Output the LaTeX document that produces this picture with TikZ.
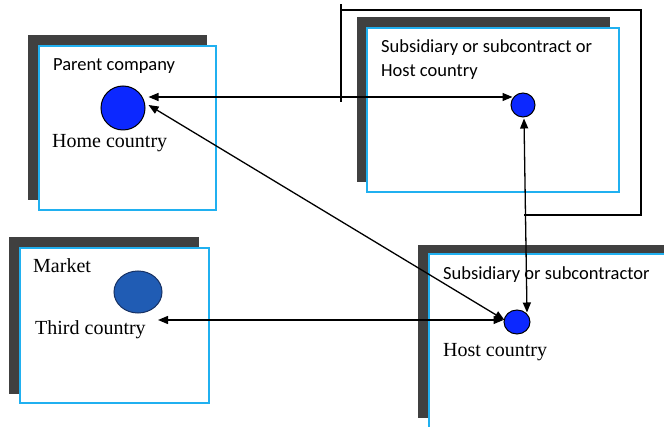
\documentclass[tikz,border=0pt]{standalone}
\usepackage{fontspec}
\setmainfont{Liberation Serif}
\newfontfamily\calib{Carlito}
\usetikzlibrary{arrows.meta,shapes.geometric}
\definecolor{shade}{RGB}{64,64,64}
\definecolor{rim}{RGB}{32,176,240}
\definecolor{dotblue}{RGB}{12,40,255}
\definecolor{mktblue}{RGB}{32,92,180}
\definecolor{mktrim}{RGB}{24,50,100}
\begin{document}
\begin{tikzpicture}[x=1pt,y=-1pt,
  shadowrect/.style={fill=shade, draw=none, anchor=north west, inner sep=0pt, outer sep=0pt},
  panel/.style={fill=white, draw=rim, line width=1.4pt, anchor=north west, inner sep=0pt, outer sep=0pt},
  dot/.style={circle, fill=dotblue, draw=black, line width=1pt, inner sep=0pt},
  sanslabel/.style={anchor=base west, inner sep=0pt, font=\calib\fontsize{18.5}{22}\selectfont},
  seriflabel/.style={anchor=base west, inner sep=0pt, font=\fontsize{20}{24}\selectfont},
  tip/.tip={Triangle[length=10pt,width=8pt]},
  link/.style={line width=1.3pt, tip-tip},
  frameline/.style={line width=1.3pt}
]
\path[use as bounding box, fill=white] (0,0) rectangle (664,427);
\begin{scope}
\clip (0,0) rectangle (664,427);

% parent company / home country
\node[shadowrect, minimum width=179pt, minimum height=165pt] (pshade) at (28,35) {};
\node[panel, minimum width=177pt, minimum height=164pt] (pbox) at (39,46) {};
\node[sanslabel] (ptitle) at (53,71) {Parent company};
\node[dot, minimum size=44pt] (home) at (123,108) {};
\node[seriflabel] (hlabel) at (52,148) {Home country};

% subsidiary (top right)
\node[shadowrect, minimum width=253pt, minimum height=165pt] (sshade) at (357,17) {};
\node[panel, minimum width=252pt, minimum height=164pt] (sbox) at (367,28) {};
\node[sanslabel] (stitle) at (381,53) {Subsidiary or subcontract or};
\node[sanslabel] (stitleb) at (381,77) {Host country};
\node[dot, minimum size=24pt] (top) at (523,105) {};

% open frame around the subsidiary panel
\coordinate (f0) at (341,102);
\coordinate (f1) at (341,4);
\coordinate (f2) at (341,10);
\coordinate (f3) at (641,10);
\coordinate (f4) at (641,215);
\coordinate (f5) at (524,215);
\draw[frameline] (f0) -- (f1);
\draw[frameline] (f2) -- (f3) -- (f4) -- (f5);

% market / third country
\node[shadowrect, minimum width=190pt, minimum height=157pt] (mshade) at (9,237) {};
\node[panel, minimum width=189pt, minimum height=155pt] (mbox) at (20,248) {};
\node[seriflabel] (mtitle) at (33,273) {Market};
\node[ellipse, fill=mktblue, draw=mktrim, line width=1pt, minimum width=48pt, minimum height=42pt, inner sep=0pt] (mkt) at (138,292) {};
\node[seriflabel] (tlabel) at (35,335) {Third country};
\coordinate (mktin) at (158,320);

% subsidiary or subcontractor (bottom right)
\node[shadowrect, minimum width=270pt, minimum height=173pt] (bshade) at (418,245) {};
\node[panel, minimum width=270pt, minimum height=200pt] (bbox) at (429,254) {};
\node[sanslabel] (btitle) at (443,280) {Subsidiary or subcontractor};
\node[ellipse, fill=dotblue, draw=black, line width=1pt, minimum width=26pt, minimum height=24pt, inner sep=0pt] (bot) at (517,322) {};
\node[seriflabel] (blabel) at (443,357) {Host country};

% links
\draw[link] ([shift={(3pt,11pt)}]home.east) -- ([shift={(2pt,8pt)}]top.west);
\draw[link] ([shift={(3pt,3pt)}]home.east) -- ([shift={(1pt,2pt)}]bot.west);
\draw[link] (mktin) -- ([shift={(0pt,2pt)}]bot.west);
\draw[link] ([shift={(1pt,-1pt)}]top.south) -- ([shift={(10pt,-3pt)}]bot.north);
\end{scope}
\end{tikzpicture}
\end{document}
